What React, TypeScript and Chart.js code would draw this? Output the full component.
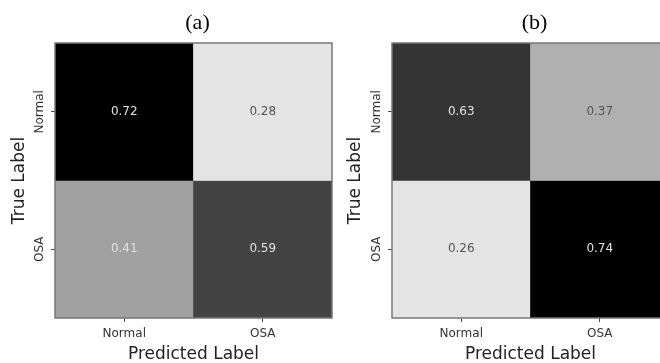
import React, { useEffect, useRef } from "react";
import { Chart, registerables } from "chart.js";

Chart.register(...registerables);

// ---- data ----
const predictedLabels = ["Normal", "OSA"];
const trueLabels = ["Normal", "OSA"];
const panelTitles = ["(a)", "(b)"];
const matrixA = [
  [0.72, 0.28],
  [0.41, 0.59],
];
const matrixB = [
  [0.63, 0.37],
  [0.26, 0.74],
];

const FONT = "'DejaVu Sans', sans-serif";

function grayFor(v: number, min: number, max: number) {
  const t = (v - min) / (max - min || 1);
  const g = Math.round(228 * (1 - t));
  return `rgb(${g},${g},${g})`;
}

type PanelProps = {
  matrix: number[][];
  title: string;
  left: number;
  width: number;
  yAxisWidth: number;
  yTitlePad: number;
  rightPad: number;
};

function Panel({ matrix, title, left, width, yAxisWidth, yTitlePad, rightPad }: PanelProps) {
  const ref = useRef<HTMLCanvasElement | null>(null);

  useEffect(() => {
    if (!ref.current) return;
    const flat = matrix.flat();
    const min = Math.min(...flat);
    const max = Math.max(...flat);
    const n = trueLabels.length;

    const datasets = trueLabels.map((t, r) => {
      const base = n - 1 - r;
      return {
        label: t,
        data: matrix[r].map(() => [base, base + 1]),
        values: matrix[r],
        backgroundColor: matrix[r].map((v) => grayFor(v, min, max)),
        borderWidth: 0,
        barPercentage: 1,
        categoryPercentage: 1,
        grouped: false,
      } as any;
    });

    const overlay = {
      id: "overlay",
      afterDatasetsDraw(chart: any) {
        const ctx = chart.ctx;
        ctx.save();
        ctx.font = `12px ${FONT}`;
        ctx.textAlign = "center";
        ctx.textBaseline = "middle";
        chart.data.datasets.forEach((ds: any, i: number) => {
          const meta = chart.getDatasetMeta(i);
          meta.data.forEach((el: any, j: number) => {
            const p = el.getProps(["x", "y", "base"], true);
            const v = ds.values[j];
            ctx.fillStyle = v > max / 2 ? "#e0e0e0" : "#555555";
            ctx.fillText(v.toFixed(2), p.x, (p.y + p.base) / 2);
          });
        });
        ctx.restore();
      },
      afterDraw(chart: any) {
        const ctx = chart.ctx;
        const a = chart.chartArea;
        ctx.save();
        // frame
        ctx.strokeStyle = "#777777";
        ctx.lineWidth = 1.5;
        ctx.strokeRect(a.left, a.top, a.right - a.left, a.bottom - a.top);
        // y tick labels (rotated)
        const ys = chart.scales.y;
        ctx.fillStyle = "#333333";
        ctx.font = `12px ${FONT}`;
        ctx.textAlign = "center";
        ctx.textBaseline = "middle";
        trueLabels.forEach((lab, r) => {
          const py = ys.getPixelForValue(n - 1 - r + 0.5);
          ctx.save();
          ctx.translate(a.left - 15, py);
          ctx.rotate(-Math.PI / 2);
          ctx.fillText(lab, 0, 0);
          ctx.restore();
        });
        // panel title
        ctx.fillStyle = "#000000";
        ctx.font = `22px 'Liberation Serif', 'Times New Roman', serif`;
        ctx.textAlign = "center";
        ctx.textBaseline = "middle";
        ctx.fillText(title, (a.left + a.right) / 2 + 4, 23);
        ctx.restore();
      },
    };

    const gridOpts = {
      drawOnChartArea: false,
      drawTicks: true,
      tickLength: 4,
      tickColor: "#444444",
      tickWidth: 1,
      offset: false,
    };

    const chart = new Chart(ref.current, {
      type: "bar",
      data: { labels: predictedLabels, datasets },
      options: {
        responsive: false,
        animation: false,
        devicePixelRatio: 1,
        layout: { padding: { top: 43, right: rightPad, left: 0, bottom: 0 } },
        plugins: { legend: { display: false }, tooltip: { enabled: false }, title: { display: false } },
        scales: {
          x: {
            type: "category",
            offset: true,
            grid: gridOpts,
            border: { display: false },
            ticks: { font: { family: FONT, size: 12 }, color: "#333333", padding: 5, maxRotation: 0 },
            title: {
              display: true,
              text: "Predicted Label",
              font: { family: FONT, size: 17, lineHeight: 1 },
              color: "#222222",
              padding: { top: 0, bottom: 0 },
            },
            afterFit: (s: any) => {
              s.height = 45;
            },
          },
          y: {
            type: "linear",
            min: 0,
            max: trueLabels.length,
            grid: gridOpts,
            border: { display: false },
            ticks: { display: false },
            afterBuildTicks: (s: any) => {
              s.ticks = trueLabels.map((_, r) => ({ value: n - 1 - r + 0.5 }));
            },
            title: {
              display: true,
              text: "True Label",
              font: { family: FONT, size: 17 },
              color: "#222222",
              padding: { top: yTitlePad, bottom: 0 },
            },
            afterFit: (s: any) => {
              s.width = yAxisWidth;
            },
          },
        },
      } as any,
      plugins: [overlay],
    });
    return () => chart.destroy();
  }, [matrix, title, yAxisWidth, yTitlePad, rightPad]);

  return (
    <canvas
      ref={ref}
      width={width}
      height={363}
      style={{ position: "absolute", left, top: 0, width, height: 363 }}
    />
  );
}

export default function App() {
  return (
    <div
      style={{
        position: "fixed",
        left: 0,
        top: 0,
        width: 660,
        height: 363,
        overflow: "hidden",
        background: "#ffffff",
      }}
    >
      <Panel matrix={matrixA} title={panelTitles[0]} left={0} width={345} yAxisWidth={55} yTitlePad={9} rightPad={13} />
      <Panel matrix={matrixB} title={panelTitles[1]} left={345} width={340} yAxisWidth={47} yTitlePad={0} rightPad={16} />
    </div>
  );
}
